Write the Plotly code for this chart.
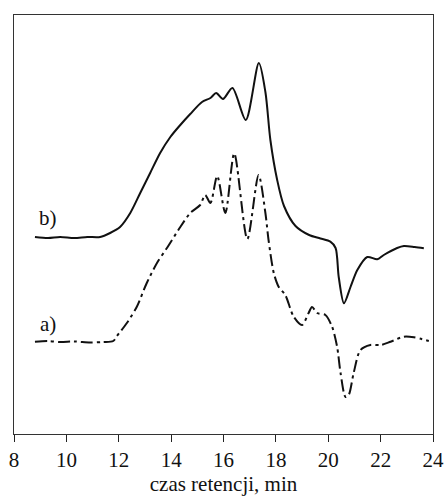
import plotly.graph_objects as go

# retention time (min) and detector signal (arbitrary units)
t_b = [8.80, 9.30, 9.76, 10.30, 10.80, 11.29, 11.67, 12.05, 12.44, 12.82, 13.20, 13.58, 13.97,
       14.35, 14.73, 15.18, 15.50, 15.72, 15.98, 16.34, 16.85, 17.35, 17.60, 17.79, 18.05,
       18.31, 18.75, 19.27, 19.70, 20.08, 20.28, 20.40, 20.60, 20.85, 21.11, 21.49, 21.87,
       22.12, 22.63, 22.89, 23.30, 23.65]
s_b = [197, 196, 197, 196, 197, 197, 201, 207, 221, 241, 261, 281, 297,
       309, 320, 332, 336, 341, 335, 346, 314, 371, 342, 294, 254,
       228, 208, 199, 195.5, 192.3, 186, 157, 130.7, 147, 164, 177, 174.7,
       179, 186, 188, 187, 185.7]

t_a = [8.80, 9.30, 9.76, 10.30, 10.91, 11.40, 11.79, 11.93, 12.31, 12.69, 13.07, 13.46, 13.84,
       14.35, 14.73, 15.11, 15.30, 15.50, 15.76, 16.07, 16.41, 16.91, 17.34, 17.60, 17.72,
       17.92, 18.11, 18.36, 18.68, 19.00, 19.25, 19.38, 19.58, 19.89, 20.15, 20.34, 20.47,
       20.66, 20.78, 20.97, 21.23, 21.61, 22.00, 22.38, 22.89, 23.27, 23.84]
s_a = [92.3, 93, 92, 92.5, 91.5, 92, 93, 98, 111, 127.3, 151, 171, 186,
       207, 221, 229, 239, 231, 258, 221, 280.5, 195, 259, 221, 194,
       161, 147, 139, 117.3, 109, 121, 127, 121, 119, 107, 87, 61,
       37, 39, 61, 84, 89, 89, 92.3, 97.3, 96.7, 93]

x_ticks = [8, 10, 12, 14, 16, 18, 20, 22, 24]
x_title = "czas retencji, min"
label_a, label_b = "a)", "b)"

FONT = "Times New Roman, Liberation Serif, DejaVu Serif, serif"

fig = go.Figure()
fig.add_trace(go.Scatter(x=t_b, y=s_b, mode="lines",
                         line=dict(color="#111", width=2, shape="spline", smoothing=0.8),
                         showlegend=False))
fig.add_trace(go.Scatter(x=t_a, y=s_a, mode="lines",
                         line=dict(color="#111", width=2, shape="spline", smoothing=0.8,
                                   dash="12px,4px,3px,4px"),
                         showlegend=False))

fig.add_annotation(x=9.3, y=216, text=label_b, showarrow=False,
                   font=dict(family=FONT, size=21, color="#111"), xanchor="center", yanchor="middle")
fig.add_annotation(x=9.3, y=110, text=label_a, showarrow=False,
                   font=dict(family=FONT, size=21, color="#111"), xanchor="center", yanchor="middle")

fig.update_layout(
    template="none",
    width=444, height=496,
    margin=dict(l=14, r=11, t=15, b=62, autoexpand=False),
    paper_bgcolor="white", plot_bgcolor="white",
    font=dict(family=FONT, size=21, color="#111"),
    xaxis=dict(range=[8, 24], tickvals=x_ticks, ticktext=[str(v) for v in x_ticks],
               ticks="outside", ticklen=7, tickwidth=1, tickcolor="#222",
               showline=True, linecolor="#333", linewidth=1, mirror=True,
               showgrid=False, zeroline=False, automargin=False,
               title=dict(text=x_title, standoff=2, font=dict(family=FONT, size=21)),
               tickfont=dict(family=FONT, size=21)),
    yaxis=dict(range=[0, 419], showticklabels=False, ticks="",
               showline=True, linecolor="#333", linewidth=1, mirror=True,
               showgrid=False, zeroline=False, automargin=False),
)

fig.write_html("out.html")
